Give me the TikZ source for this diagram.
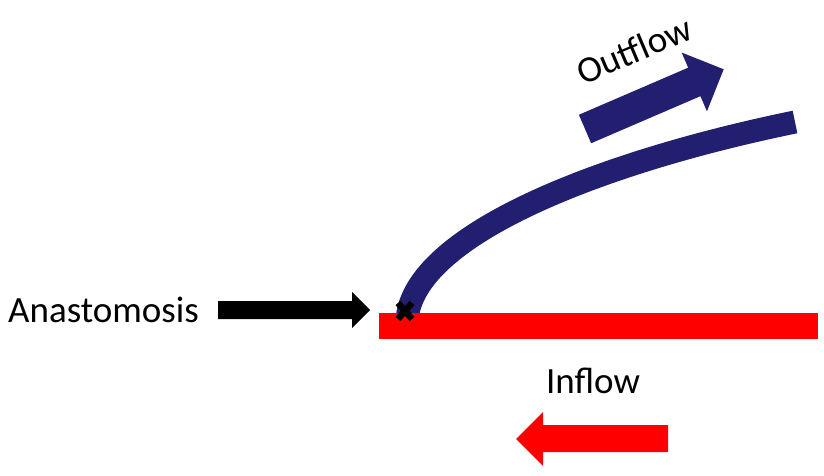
\documentclass[tikz,border=0pt]{standalone}
\usepackage{fontspec}
\setmainfont{Carlito}
\usetikzlibrary{calc}
\definecolor{navy}{RGB}{35,31,112}
\definecolor{brightred}{RGB}{255,0,0}
\begin{document}
\begin{tikzpicture}[x=1pt,y=-1pt,
  lbl/.style={inner sep=0pt,font=\fontsize{37}{44}\selectfont}]
\useasboundingbox (0,0) rectangle (824,476);
% blue vessel
\coordinate (vstart) at (407,320);
\coordinate (vend) at (795,122);
\draw[navy,line width=23pt] (vstart) .. controls (413,235) and (600,162) .. (vend);
% red vessel
\fill[brightred] (379,313) rectangle (818,339);
% anastomosis cross
\coordinate (xc) at (405,311);
\draw[black,line width=6.5pt] ($(xc)+(-7,-8)$) -- ($(xc)+(7,8)$);
\draw[black,line width=6.5pt] ($(xc)+(-7,8)$) -- ($(xc)+(7,-8)$);
% labels
\node[lbl,anchor=base west] (ana) at (8,322) {Anastomosis};
\node[lbl,anchor=base] (inflow) at (593,393) {Inflow};
\node[lbl,rotate=23,anchor=center] (outflow) at (634,50) {Outflow};
% black arrow
\fill[black] (218,301) -- (352,301) -- (352,292) -- (370,310) -- (352,328) -- (352,319) -- (218,319) -- cycle;
% red arrow
\fill[brightred] (668,425) -- (543,425) -- (543,412) -- (516,439) -- (543,466) -- (543,452) -- (668,452) -- cycle;
% blue arrow
\begin{scope}[shift={(585,129)},rotate=23.3]
\fill[navy] (0,-15.5) -- (119,-15.5) -- (119,-32) -- (151,0) -- (119,32) -- (119,15.5) -- (0,15.5) -- cycle;
\end{scope}
\end{tikzpicture}
\end{document}
